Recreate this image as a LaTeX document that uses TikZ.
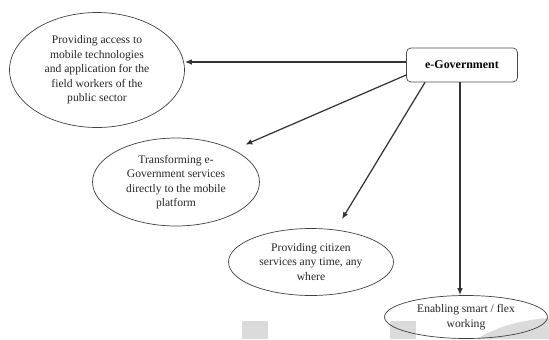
\documentclass[tikz,border=0pt]{standalone}
\usepackage{fontspec}
\setmainfont{Liberation Serif}
\usepackage{xcolor}
\usepackage{tikz}
\usetikzlibrary{shapes.geometric,arrows.meta,positioning}

\begin{document}
\begin{tikzpicture}[
  x=0.02cm, y=-0.02cm,
  bubble/.style={draw=black!75, ellipse, inner sep=0pt, align=center,
                 text=black!85, font=\fontsize{6.6}{8.2}\selectfont},
  box/.style={draw=black!70, rounded corners=2.5pt, minimum width=2.22cm,
              minimum height=0.68cm, align=center,
              font=\fontsize{6.8}{8}\selectfont\bfseries},
  arr/.style={-{Latex[length=4pt,width=3.2pt]}, draw=black!80, line width=0.7pt},
  blot/.style={fill=black!14, draw=none}
]
  \useasboundingbox (0,0) rectangle (549,339);
  \fill[blot] (242,321) rectangle (268,339);
  \fill[blot] (390,321) rectangle (416,339);
  \fill[blot] (477,339) .. controls (498,326) and (522,320) .. (549,318) -- (549,339) -- cycle;

  \node[box] (gov) at (462,65) {e-Government};
  \node[bubble, minimum width=3.5cm, minimum height=2.3cm] (field) at (97,70)
    {Providing access to\\mobile technologies\\and application for the\\field workers of the\\public sector};
  \node[bubble, minimum width=3.34cm, minimum height=1.76cm] (trans) at (176,182)
    {Transforming e-\\Government services\\directly to the mobile\\platform};
  \node[bubble, minimum width=3.3cm, minimum height=1.34cm] (citizen) at (311,262)
    {Providing citizen\\services any time, any\\where};
  \node[bubble, minimum width=3.26cm, minimum height=0.86cm] (flex) at (466,317)
    {Enabling smart / flex\\working};

  \draw[arr] ([yshift=0.06cm]gov.west) -- ([yshift=0.06cm]gov.west -| field.east);
  \draw[arr] ([yshift=-0.2cm]gov.west) -- ([xshift=0.2cm,yshift=0.12cm]trans.north east);
  \draw[arr] ([xshift=-0.74cm]gov.south) -- ([xshift=0.62cm,yshift=0.18cm]citizen.north);
  \draw[arr] ([xshift=-0.04cm]gov.south) -- ([xshift=-0.04cm]gov.south |- flex.north);
\end{tikzpicture}
\end{document}
